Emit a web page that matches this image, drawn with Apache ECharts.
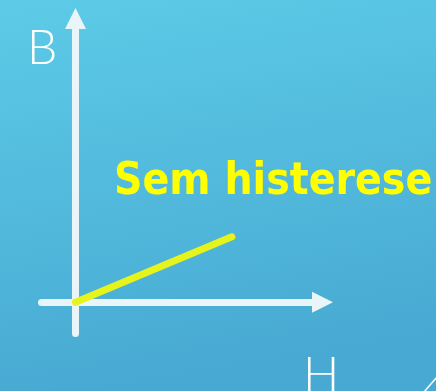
<!DOCTYPE html>
<html>
<head>
<meta charset="utf-8">
<script src="https://cdn.jsdelivr.net/npm/echarts@6/dist/echarts.min.js"></script>
<style>
  html, body { margin: 0; padding: 0; }
  #chart { width: 436px; height: 391px; }
</style>
</head>
<body>
<div id="chart"></div>
<script>
const H_RANGE = [-1.5, 10.9];
const B_RANGE = [-1, 9.1];
const hValues = [0, 6.9];
const bValues = [0, 2.1];
const AXIS_NAMES = ["H", "B"];
const TITLE = "Sem histerese";

const AXIS_COLOR = "#eaf5fa";
const LINE_COLOR = "#e6f41c";

const chartElement = document.getElementById("chart");
const chartInstance = echarts.init(chartElement);

const axisLine = (symbol) => ({
  show: true,
  onZero: true,
  symbol: symbol,
  symbolSize: [21, 21],
  lineStyle: { color: AXIS_COLOR, width: 7, cap: "round" },
});

const option = {
  animation: false,
  backgroundColor: {
    type: "linear",
    x: 0, y: 0, x2: 0.15, y2: 1,
    colorStops: [
      { offset: 0, color: "#5dcbe8" },
      { offset: 1, color: "#48aad2" },
    ],
  },
  grid: { left: 41.5, right: 113.5, top: 18.5, bottom: 57.5 },
  xAxis: {
    type: "value",
    min: H_RANGE[0],
    max: H_RANGE[1],
    axisLine: axisLine(["none", "triangle"]),
    axisTick: { show: false },
    axisLabel: { show: false },
    splitLine: { show: false },
  },
  yAxis: {
    type: "value",
    min: B_RANGE[0],
    max: B_RANGE[1],
    axisLine: axisLine(["none", "triangle"]),
    axisTick: { show: false },
    axisLabel: { show: false },
    splitLine: { show: false },
  },
  graphic: [
    {
      type: "text",
      left: 27,
      top: 25,
      style: {
        text: AXIS_NAMES[1],
        fill: "#ffffff",
        font: "300 48px Lato, Roboto, sans-serif",
      },
    },
    {
      type: "text",
      left: 303,
      top: 352,
      style: {
        text: AXIS_NAMES[0],
        fill: "#ffffff",
        font: "300 48px Lato, Roboto, sans-serif",
      },
    },
    {
      type: "text",
      left: 114,
      top: 161,
      style: {
        text: TITLE,
        fill: "#ffff00",
        font: "bold 44px 'DejaVu Sans Condensed', sans-serif",
      },
    },
    {
      type: "line",
      shape: { x1: 424, y1: 392, x2: 437, y2: 377 },
      style: { stroke: "#ffffff", lineWidth: 1.5 },
    },
  ],
  series: [
    {
      type: "line",
      data: hValues.map((h, i) => [h, bValues[i]]),
      showSymbol: false,
      lineStyle: { color: LINE_COLOR, width: 7, cap: "round" },
      z: 5,
    },
  ],
};
chartInstance.setOption(option);
</script>
</body>
</html>
